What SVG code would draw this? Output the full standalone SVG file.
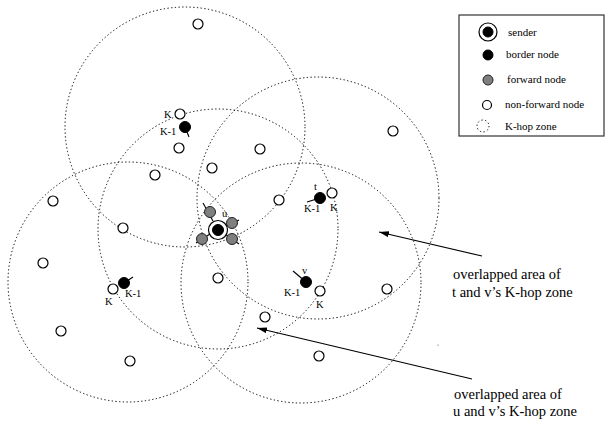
<svg xmlns="http://www.w3.org/2000/svg" width="605" height="426" viewBox="0 0 605 426">
<style>
.zone{fill:none;stroke:#000;stroke-width:1;stroke-dasharray:1.3 2.4}
.open{fill:#fff;stroke:#000;stroke-width:1.2}
.border{fill:#000;stroke:#000;stroke-width:1}
.fwd{fill:#7f7f7f;stroke:#222;stroke-width:1}
.tick{stroke:#000;stroke-width:1.1;fill:none}
.lbl{font-family:"Liberation Serif","Times New Roman",serif;font-size:10.5px;fill:#000}
.leg{font-family:"Liberation Serif","Times New Roman",serif;font-size:11px;fill:#000}
.ann{font-family:"Liberation Serif","Times New Roman",serif;font-size:14.5px;fill:#000}
.arrow{stroke:#000;stroke-width:1.2;fill:none;marker-end:url(#ah)}
</style>
<defs>
<marker id="ah" viewBox="0 0 10 6" refX="10" refY="3" markerWidth="10" markerHeight="6" markerUnits="userSpaceOnUse" orient="auto">
<path d="M0,0 L10,3 L0,6 Z" fill="#000"/>
</marker>
</defs>
<rect width="605" height="426" fill="#fff"/>
<g id="zones">
<circle class="zone" cx="185" cy="127" r="120"/>
<circle class="zone" cx="128" cy="282" r="120"/>
<circle class="zone" cx="318" cy="198" r="121"/>
<circle class="zone" cx="301" cy="283" r="120"/>
<circle class="zone" cx="218" cy="229" r="120"/>
</g>
<g id="connectors">
<line class="tick" x1="203" y1="203" x2="213" y2="221"/>
<line class="tick" x1="226" y1="226" x2="239" y2="220"/>
<line class="tick" x1="196" y1="243" x2="210" y2="234"/>
<line class="tick" x1="225" y1="234" x2="239" y2="244"/>
<line class="tick" x1="185" y1="127" x2="189" y2="137"/>
<line class="tick" x1="124" y1="283" x2="133" y2="277"/>
<line class="tick" x1="307" y1="202" x2="320" y2="198"/>
<line class="tick" x1="293" y1="271" x2="306" y2="282"/>
<line class="arrow" x1="482" y1="256" x2="379" y2="232"/>
<line class="arrow" x1="472" y1="379" x2="257" y2="328"/>
</g>
<g id="nonforward">
<circle class="open" cx="198" cy="24" r="5"/>
<circle class="open" cx="179" cy="148" r="5"/>
<circle class="open" cx="260" cy="149" r="5"/>
<circle class="open" cx="212" cy="168" r="5"/>
<circle class="open" cx="155" cy="175" r="5"/>
<circle class="open" cx="53" cy="201" r="5"/>
<circle class="open" cx="279" cy="200" r="5"/>
<circle class="open" cx="393" cy="131" r="5"/>
<circle class="open" cx="123" cy="228" r="5"/>
<circle class="open" cx="43" cy="263" r="5"/>
<circle class="open" cx="61" cy="331" r="5"/>
<circle class="open" cx="130" cy="361" r="5"/>
<circle class="open" cx="218" cy="278" r="5"/>
<circle class="open" cx="265" cy="317" r="5"/>
<circle class="open" cx="387" cy="289" r="5"/>
<circle class="open" cx="319" cy="356" r="5"/>
<circle cx="438" cy="345" r="0.6" fill="#555"/>
</g>
<g id="node-top">
<circle class="open" cx="180" cy="114" r="5"/>
<circle class="border" cx="185" cy="127" r="5.5"/>
<text class="lbl" x="164" y="118">K</text>
<text class="lbl" x="160" y="135">K-1</text>
</g>
<g id="node-left">
<circle class="open" cx="113" cy="289" r="5"/>
<circle class="border" cx="124" cy="283" r="5.5"/>
<text class="lbl" x="105" y="305">K</text>
<text class="lbl" x="125" y="297">K-1</text>
</g>
<g id="node-t">
<circle class="open" cx="332" cy="193" r="5"/>
<circle class="border" cx="320" cy="198" r="5.5"/>
<text class="lbl" x="314" y="190">t</text>
<text class="lbl" x="304" y="212">K-1</text>
<text class="lbl" x="330" y="211">K</text>
</g>
<g id="node-v">
<circle class="open" cx="320" cy="291" r="5"/>
<circle class="border" cx="306" cy="282" r="5.5"/>
<text class="lbl" x="302" y="274">v</text>
<text class="lbl" x="284" y="296">K-1</text>
<text class="lbl" x="316" y="308">K</text>
</g>
<g id="node-u">
<circle class="fwd" cx="210" cy="212" r="5.5"/>
<circle class="fwd" cx="232" cy="223" r="5.5"/>
<circle class="fwd" cx="202" cy="239" r="5.5"/>
<circle class="fwd" cx="232" cy="239" r="5.5"/>
<circle class="open" cx="218" cy="230" r="9.5"/>
<circle class="border" cx="218" cy="230" r="5.5"/>
<text class="lbl" x="222" y="217">u</text>
</g>
<g id="legend">
<rect x="459" y="15" width="145" height="121" fill="#fff" stroke="#333" stroke-width="1.2"/>
<circle class="open" cx="488" cy="32" r="9"/>
<circle class="border" cx="488" cy="32" r="5"/>
<text class="leg" x="508" y="36">sender</text>
<circle class="border" cx="488" cy="55" r="5"/>
<text class="leg" x="506" y="58">border node</text>
<circle class="fwd" cx="488" cy="80" r="5"/>
<text class="leg" x="507" y="83">forward node</text>
<circle class="open" cx="487" cy="105" r="4.5"/>
<text class="leg" x="505" y="108">non-forward node</text>
<circle class="zone" cx="483" cy="126" r="6"/>
<text class="leg" x="505" y="130">K-hop zone</text>
</g>
<g id="annotations">
<text class="ann" x="453" y="279">overlapped area of</text>
<text class="ann" x="452" y="297">t and v’s K-hop zone</text>
<text class="ann" x="454" y="399">overlapped area of</text>
<text class="ann" x="453" y="416">u and v’s K-hop zone</text>
</g>
</svg>
